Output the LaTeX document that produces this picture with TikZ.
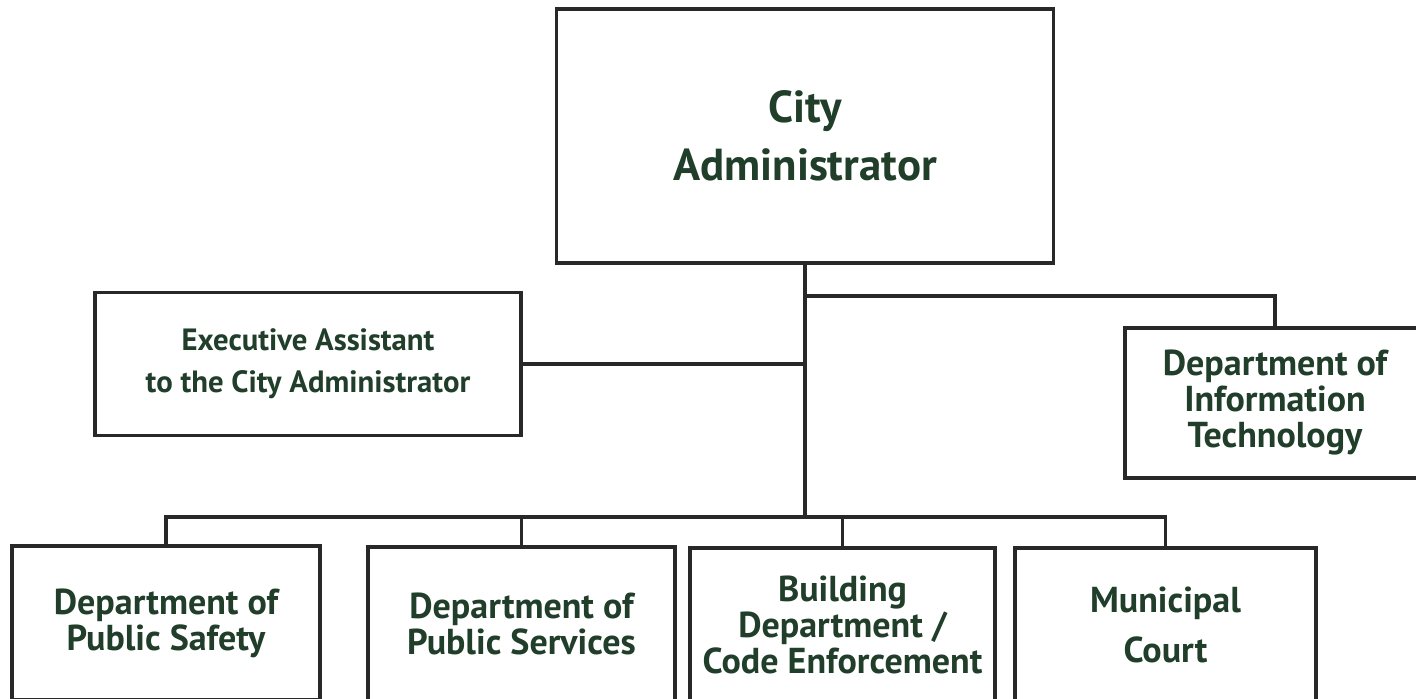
\documentclass[tikz,border=0pt]{standalone}
\usepackage{fontspec}
\setmainfont{PT Sans}
\usetikzlibrary{positioning}
\definecolor{labelgreen}{RGB}{32,62,42}
\definecolor{boxline}{RGB}{40,40,40}

\begin{document}
\begin{tikzpicture}[x=0.02cm, y=-0.02cm]
    % Styles
    \tikzset{
        unit/.style={draw=boxline, line width=1.8pt, fill=white, align=center,
            text=labelgreen, font=\bfseries\fontsize{20.5}{20.5}\selectfont, inner sep=0pt},
        link/.style={draw=boxline, line width=1.8pt}
    }

    % Page frame
    \useasboundingbox (0,0) rectangle (1416,699);

    % Top
    \node[unit, minimum width=9.94cm, minimum height=5.08cm,
        font=\bfseries\fontsize{25.5}{33}\selectfont] (admin) at (805,136) {City\\Administrator};

    % Staff
    \node[unit, minimum width=8.52cm, minimum height=2.86cm,
        font=\bfseries\fontsize{17.5}{24}\selectfont] (assist) at (308,364) {Executive Assistant\\to the City Administrator};
    \node[unit, minimum width=6.0cm, minimum height=3.0cm] (infotech) at (1275,403)
        {Department of\\Information\\Technology};

    % Departments
    \node[unit, minimum width=6.16cm, minimum height=3.08cm] (safety) at (166,623)
        {Department of\\Public Safety};
    \node[unit, minimum width=6.14cm, minimum height=3.08cm] (services) at (521.5,624)
        {Department of\\Public Services};
    \node[unit, minimum width=6.10cm, minimum height=3.08cm] (building) at (842.5,625)
        {Building\\Department /\\Code Enforcement};
    \node[unit, minimum width=6.02cm, minimum height=3.08cm,
        font=\bfseries\fontsize{20.5}{28}\selectfont] (court) at (1165.5,625) {Municipal\\Court};

    % Bus points
    \coordinate (trunk) at (805,517);
    \coordinate (itturn) at (805,296);

    % Connectors
    \draw[link] (admin.south) -- (trunk);
    \draw[link] (itturn) -| (infotech.north);
    \draw[link] (assist.east) -- (assist.east -| admin.south);
    \draw[link] (safety.north) |- (trunk) -| (court.north);
    \foreach \dept in {services,building}
        \draw[link] (\dept.north) -- (\dept.north |- trunk);

\end{tikzpicture}
\end{document}
